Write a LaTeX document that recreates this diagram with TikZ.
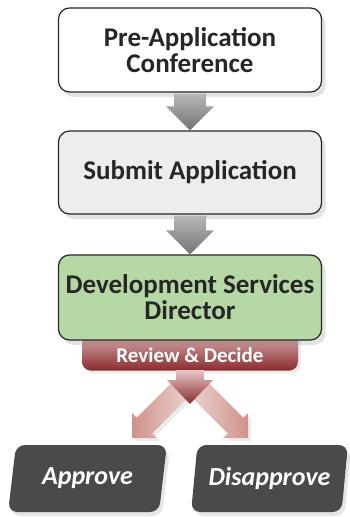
\documentclass[tikz,border=0pt]{standalone}
\usepackage{fontspec}
\setmainfont{Carlito}
\usetikzlibrary{calc,shadows,shapes.geometric,backgrounds}

\definecolor{boxgray}{HTML}{EDEDED}
\definecolor{boxgreen}{HTML}{B5D8A4}
\definecolor{tabpink}{HTML}{E8C8C8}
\definecolor{darkred}{HTML}{8A2A2D}
\definecolor{arrowpink}{HTML}{D0928A}
\definecolor{arrowlight}{HTML}{EAD3D0}
\definecolor{darkbox}{HTML}{4A4A4A}

\begin{document}
\begin{tikzpicture}[x=1pt,y=-1pt,
  stepbox/.style={draw=black!85, line width=1.2pt, rounded corners=11pt,
    minimum width=263pt, minimum height=84pt, align=center, text=black!85,
    font=\fontsize{27}{26}\selectfont\bfseries,
    drop shadow={shadow xshift=4pt, shadow yshift=-5pt, opacity=.22}},
  outcome/.style={trapezium, trapezium left angle=79, trapezium right angle=101,
    trapezium stretches=true, minimum height=67pt, rounded corners=9pt,
    fill=darkbox, text=white, font=\fontsize{26}{26}\selectfont\bfseries\itshape,
    drop shadow={shadow xshift=3pt, shadow yshift=-4pt, opacity=.2}}]
  \useasboundingbox (0,0) rectangle (350,517);

  % the three steps
  \node[stepbox, fill=white] (pre) at (190,50) {Pre-Application\\Conference};
  \node[stepbox, fill=boxgray, minimum height=83pt] (submit) at (190,172.5) {Submit Application};
  \node[stepbox, fill=boxgreen, minimum height=85pt] (director) at (190,297.5) {Development Services\\Director};

  % gray arrows between the steps
  \shade[top color=black!28, bottom color=black!55]
    ($(pre.south)+(-16,1)$) -- ($(submit.north)+(-16,-24)$) -- ++(-8,0) -- (submit.north)
    -- ++(24,-24) -- ++(-8,0) -- ($(pre.south)+(16,1)$) -- cycle;
  \shade[top color=black!28, bottom color=black!55]
    ($(submit.south)+(-16,1)$) -- ($(director.north)+(-16,-24)$) -- ++(-8,0) -- (director.north)
    -- ++(24,-24) -- ++(-8,0) -- ($(submit.south)+(16,1)$) -- cycle;

  % the two outcomes
  \node[outcome, minimum width=159pt] (approve) at (87.5,478.5) {Approve};
  \node[outcome, minimum width=157pt] (disapprove) at (269.5,478.5) {Disapprove};

  \coordinate (lefttip) at (132,438);
  \coordinate (righttip) at (248,438);
  \coordinate (split) at (190,404);

  % split arrows
  \shade[left color=arrowpink, middle color=arrowpink, right color=arrowlight,
    drop shadow={shadow xshift=3pt, shadow yshift=-3pt, opacity=.15}]
    (lefttip) -- ++(0,-25) -- ++(4.7,4.7) -- ++(37.5,-37.5) -- ++(15.6,15.6)
    -- ++(-37.5,37.5) -- ++(4.7,4.7) -- cycle;
  \shade[right color=arrowpink, middle color=arrowpink, left color=arrowlight,
    drop shadow={shadow xshift=3pt, shadow yshift=-3pt, opacity=.15}]
    (righttip) -- ++(0,-25) -- ++(-4.7,4.7) -- ++(-37.5,-37.5) -- ++(-15.6,15.6)
    -- ++(37.5,37.5) -- ++(-4.7,4.7) -- cycle;

  % review tab and its arrow
  \shade[top color=tabpink, bottom color=darkred]
    ($(split)+(-14,-34)$) -- ($(split)+(-14,-24)$) -- ++(-9,0) -- (split)
    -- ++(23,-24) -- ++(-9,0) -- ++(0,-10) -- cycle;
  \begin{scope}[on background layer]
    \shade[top color=tabpink, bottom color=darkred, rounded corners=9pt,
      drop shadow={shadow xshift=3pt, shadow yshift=-3pt, opacity=.15}]
      ($(director.south)+(-108,-14)$) rectangle ($(director.south)+(108,30)$);
  \end{scope}
  \node[text=white, font=\fontsize{21}{20}\selectfont\bfseries] (review) at ($(director.south)+(0,15)$) {Review \& Decide};
\end{tikzpicture}
\end{document}
